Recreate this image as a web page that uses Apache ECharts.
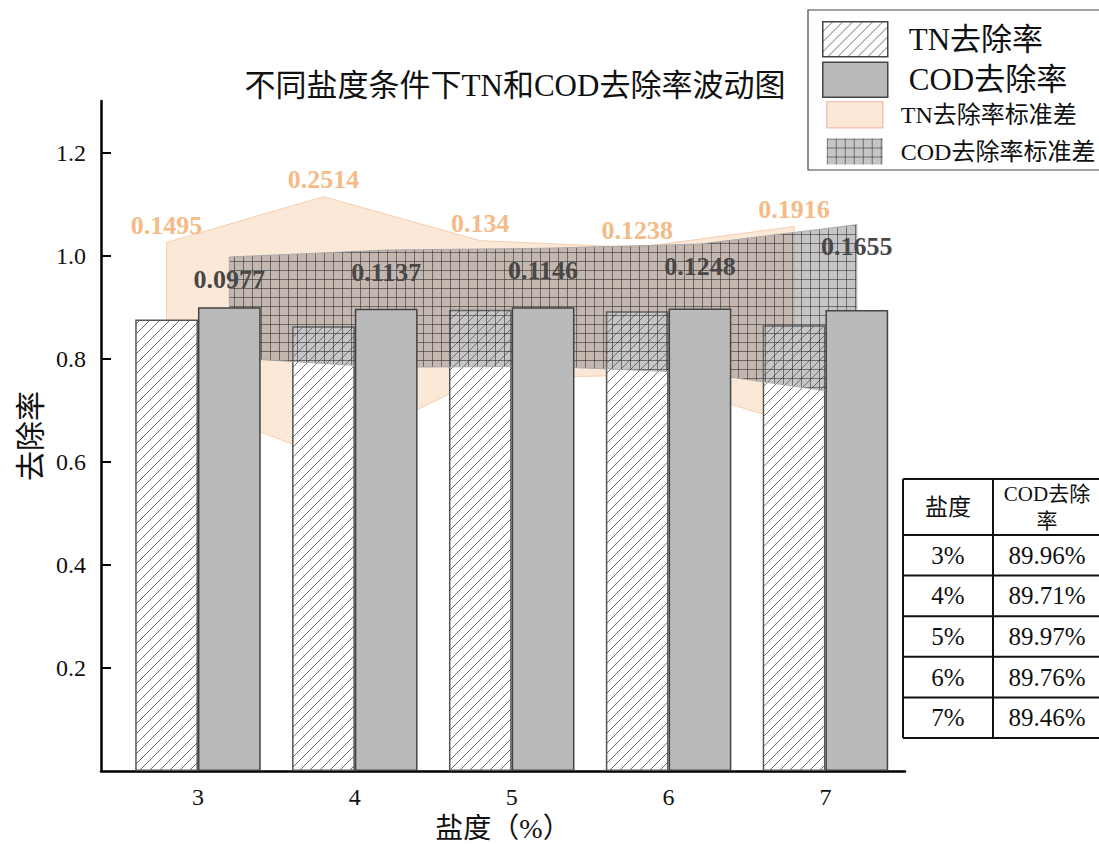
<!DOCTYPE html>
<html><head><meta charset="utf-8">
<script src="https://cdn.jsdelivr.net/npm/echarts@6/dist/echarts.min.js"></script>
<style>html,body{margin:0;padding:0;background:#fff}#c{width:1099px;height:844px}</style>
</head><body><div id="c"></div>
<script>
// ---- data ----
const salinity = [3, 4, 5, 6, 7];
const salinityLabels = ['3%', '4%', '5%', '6%', '7%'];
const tnRemoval = [0.876, 0.863, 0.895, 0.892, 0.865];
const codRemoval = [0.8996, 0.8971, 0.8997, 0.8976, 0.8946];
const tnStd = [0.1495, 0.2514, 0.134, 0.1238, 0.1916];
const codStd = [0.0977, 0.1137, 0.1146, 0.1248, 0.1655];
const yTicks = [0.2, 0.4, 0.6, 0.8, 1.0, 1.2];
const tableHeader = ['盐度', 'COD去除\n率'];

// ---- styles ----
const FONT = "'Liberation Serif','Noto Sans CJK SC',serif";
const BAR_OFFSET = 0.2; // half of bar width in axis units (bars touch, 80% of band)

function hatchPattern() {
  const s = 10, c = document.createElement('canvas');
  c.width = s; c.height = s;
  const g = c.getContext('2d');
  g.fillStyle = '#fff'; g.fillRect(0, 0, s, s);
  g.strokeStyle = '#5c5c5c'; g.lineWidth = 0.9;
  g.beginPath();
  g.moveTo(-1, s + 1); g.lineTo(s + 1, -1);
  g.moveTo(-1, 1); g.lineTo(1, -1);
  g.moveTo(s - 1, s + 1); g.lineTo(s + 1, s - 1);
  g.stroke();
  return { image: c, repeat: 'repeat' };
}
function meshPattern() {
  const s = 9, c = document.createElement('canvas');
  c.width = s; c.height = s;
  const g = c.getContext('2d');
  g.fillStyle = 'rgba(120,115,120,0.42)'; g.fillRect(0, 0, s, s);
  g.fillStyle = 'rgba(40,40,40,0.55)';
  g.fillRect(0, 0, s, 1); g.fillRect(0, 0, 1, s);
  return { image: c, repeat: 'repeat' };
}
const HATCH = hatchPattern();
const MESH = meshPattern();
const PEACH = '#fce8d7';

function bandSeries(name, means, stds, offset, fill, stroke, labelColor, labelSize, labelDy, z) {
  return {
    type: 'custom', name: name, z: z,
    coordinateSystem: 'cartesian2d',
    itemStyle: { color: fill },
    data: salinity.map((s, i) => [s, means[i], stds[i]]),
    encode: { x: 0, y: 1 },
    silent: true,
    renderItem: function (params, api) {
      const i = params.dataIndex;
      const children = [];
      if (i === 0) {
        const upper = salinity.map((s, k) => api.coord([s + offset, means[k] + stds[k]]));
        const lower = salinity.map((s, k) => api.coord([s + offset, means[k] - stds[k]])).reverse();
        children.push({
          type: 'polygon', shape: { points: upper.concat(lower) },
          style: { fill: fill, stroke: stroke, lineWidth: 1 }
        });
      }
      const p = api.coord([salinity[i] + offset, means[i] + stds[i]]);
      children.push({
        type: 'text', x: p[0], y: p[1] + labelDy, z2: 10,
        style: {
          text: String(stds[i]), fill: labelColor, align: 'center', verticalAlign: 'middle',
          font: 'bold ' + labelSize + 'px ' + FONT
        }
      });
      return { type: 'group', children: children };
    }
  };
}

// table graphic
const tableEls = [];
(function () {
  const x0 = 903, x1 = 993, x2 = 1112, yTop = 479, yHead = 535, rowH = 40.6;
  const yBot = yHead + rowH * salinityLabels.length;
  const line = (ax, ay, bx, by) => tableEls.push({ type: 'line', shape: { x1: ax, y1: ay, x2: bx, y2: by }, style: { stroke: '#111', lineWidth: 2 } });
  line(x0, yTop, x2, yTop);
  line(x0, yHead, x2, yHead);
  for (let i = 1; i <= salinityLabels.length; i++) line(x0, yHead + rowH * i, x2, yHead + rowH * i);
  line(x0, yTop, x0, yBot);
  line(x1, yTop, x1, yBot);
  const txt = (t, x, y, size, lh) => tableEls.push({ type: 'text', x: x, y: y, style: { text: t, fill: '#111', align: 'center', verticalAlign: 'middle', font: size + 'px ' + FONT, lineHeight: lh || size } });
  txt(tableHeader[0], (x0 + x1) / 2, (yTop + yHead) / 2, 23);
  txt(tableHeader[1], 1047, (yTop + yHead) / 2, 21, 27);
  salinityLabels.forEach((s, i) => {
    const cy = yHead + rowH * i + rowH / 2;
    txt(s, (x0 + x1) / 2, cy, 25);
    txt((codRemoval[i] * 100).toFixed(2) + '%', 1047, cy, 25);
  });
})();

const chart = echarts.init(document.getElementById('c'), null, { renderer: 'svg' });
chart.setOption({
  backgroundColor: '#fff',
  animation: false,
  textStyle: { fontFamily: FONT },
  title: {
    text: '不同盐度条件下TN和COD去除率波动图',
    left: 510, top: 65, textAlign: 'center',
    textStyle: { fontSize: 31, fontWeight: 'normal', color: '#111', fontFamily: FONT }
  },
  grid: { left: 101, right: 194, top: 101, bottom: 73, outerBoundsMode: 'none', containLabel: false },
  xAxis: {
    type: 'value', min: 2.382, max: 7.507,
    name: '盐度（%）', nameLocation: 'middle', nameGap: 43,
    nameTextStyle: { fontSize: 28, color: '#111', fontFamily: FONT },
    axisLine: { show: true, onZero: false, lineStyle: { color: '#000', width: 2.5 } },
    axisTick: { show: false },
    splitLine: { show: false },
    axisLabel: { customValues: salinity, formatter: v => String(v), fontSize: 24, color: '#111', margin: 14, fontFamily: FONT }
  },
  yAxis: {
    type: 'value', min: 0, max: 1.3,
    name: '去除率', nameLocation: 'middle', nameGap: 56, nameRotate: 90,
    nameTextStyle: { fontSize: 30, color: '#111', fontFamily: FONT },
    axisLine: { show: true, lineStyle: { color: '#000', width: 2.5 } },
    axisTick: { show: true, inside: true, length: 10, customValues: yTicks, lineStyle: { color: '#000', width: 2 } },
    splitLine: { show: false },
    axisLabel: { customValues: yTicks, formatter: v => v.toFixed(1), fontSize: 24, color: '#111', margin: 15, fontFamily: FONT }
  },
  legend: [
    {
      orient: 'vertical', left: 822, top: 21, itemWidth: 65, itemHeight: 35, itemGap: 4,
      padding: 0, selectedMode: false, icon: 'rect',
      textStyle: { fontSize: 31, color: '#111', fontFamily: FONT, padding: [0, 0, 0, 16] },
      data: [
        { name: 'TN去除率', itemStyle: { color: HATCH, borderColor: '#444', borderWidth: 1.5 } },
        { name: 'COD去除率', itemStyle: { color: '#bababa', borderColor: '#444', borderWidth: 1.5 } }
      ]
    },
    {
      orient: 'vertical', left: 826, top: 101, itemWidth: 56, itemHeight: 26, itemGap: 10,
      padding: 0, selectedMode: false, icon: 'rect',
      textStyle: { fontSize: 24, color: '#111', fontFamily: FONT, padding: [0, 0, 0, 13] },
      data: [
        { name: 'TN去除率标准差', itemStyle: { color: PEACH, borderColor: '#f6c4b4', borderWidth: 1.5 } },
        { name: 'COD去除率标准差', itemStyle: { color: MESH, borderWidth: 0 } }
      ]
    }
  ],
  graphic: [
    { type: 'rect', shape: { x: 808, y: 10, width: 320, height: 160 }, style: { fill: 'none', stroke: '#444', lineWidth: 1.2 }, z: 0 },
    { type: 'group', children: tableEls }
  ],
  series: [
    bandSeries('TN去除率标准差', tnRemoval, tnStd, -BAR_OFFSET, PEACH, '#f7cfae', '#f4bb88', 26, -17, 1),
    {
      type: 'bar', name: 'TN去除率', z: 2,
      data: salinity.map((s, i) => [s, tnRemoval[i]]),
      barGap: '0%', barCategoryGap: '20%',
      itemStyle: { color: HATCH, borderColor: '#555', borderWidth: 1.5 }
    },
    bandSeries('COD去除率标准差', codRemoval, codStd, BAR_OFFSET, MESH, 'rgba(165,165,170,0.9)', '#474747', 26, 22, 3),
    {
      type: 'bar', name: 'COD去除率', z: 4,
      data: salinity.map((s, i) => [s, codRemoval[i]]),
      barGap: '0%', barCategoryGap: '20%',
      itemStyle: { color: '#bababa', borderColor: '#444', borderWidth: 1.5 }
    }
  ]
});
</script>
</body></html>
